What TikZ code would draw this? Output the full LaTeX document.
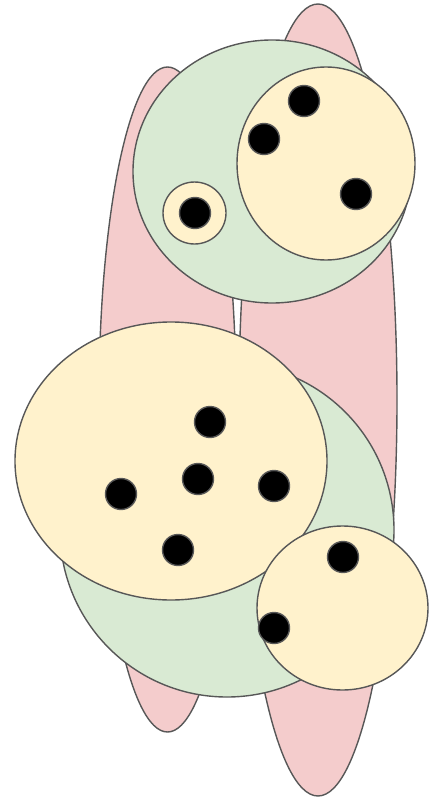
\documentclass[tikz,border=0pt]{standalone}
\begin{document}
\begin{tikzpicture}[x=1pt,y=-1pt,
  outl/.style={draw=black!66,line width=1.4pt},
  pinkset/.style={outl,fill=pinkc},
  greenset/.style={outl,fill=greenc},
  yellowset/.style={outl,fill=yellowc},
  dotel/.style={outl,fill=black}]
\definecolor{pinkc}{HTML}{F4CCCC}
\definecolor{greenc}{HTML}{D9EAD3}
\definecolor{yellowc}{HTML}{FFF2CC}
\useasboundingbox (0,0) rectangle (437,797);
% pink sets
\path[pinkset] (167.5,399.5) ellipse [x radius=68.5, y radius=332.5];
\path[pinkset] (318,400) ellipse [x radius=79, y radius=396];
% top group
\path[greenset] (272,171.5) ellipse [x radius=139, y radius=131.5];
\path[yellowset] (326,163.5) ellipse [x radius=89, y radius=96.5];
\path[yellowset] (194.5,213) ellipse [x radius=31.5, y radius=31];
\path[dotel] (195,213) circle [radius=15.5];
\path[dotel] (304,101) circle [radius=15.5];
\path[dotel] (264,139) circle [radius=15.5];
\path[dotel] (356,194) circle [radius=15.5];
% bottom group
\path[greenset] (227,530) circle [radius=167];
\path[yellowset] (171,461) ellipse [x radius=156, y radius=139];
\path[yellowset] (342.5,608) ellipse [x radius=85.5, y radius=82];
\path[dotel] (210,422) circle [radius=15.5];
\path[dotel] (198,479) circle [radius=15.5];
\path[dotel] (274,486) circle [radius=15.5];
\path[dotel] (121,494) circle [radius=15.5];
\path[dotel] (178,550) circle [radius=15.5];
\path[dotel] (343,557) circle [radius=15.5];
\path[dotel] (274,628) circle [radius=15.5];
\end{tikzpicture}
\end{document}
